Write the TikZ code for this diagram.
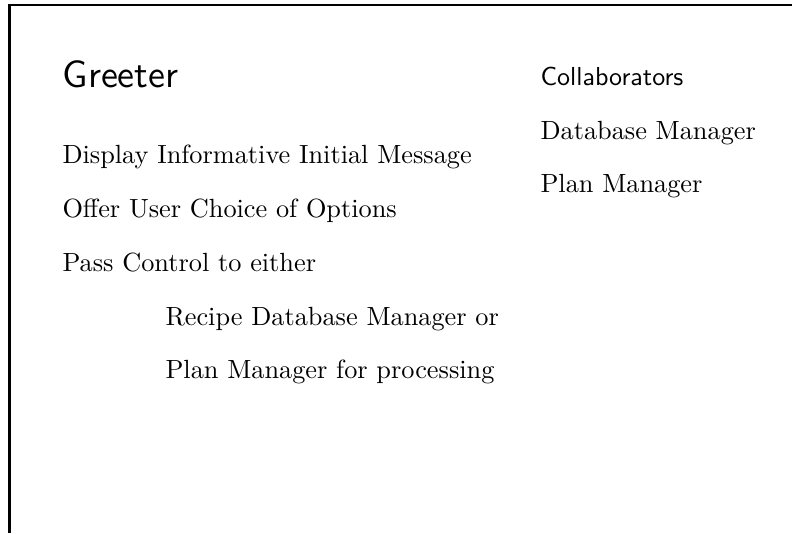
\documentclass[tikz,border=0pt]{standalone}
\usepackage{tikz}
\usetikzlibrary{positioning}

\begin{document}
\begin{tikzpicture}[x=1pt,y=-1pt,
  resp/.style={anchor=base west,inner sep=0pt,scale=2.63,transform shape,font=\fontsize{10}{12}\selectfont},
  collab/.style={anchor=base west,inner sep=0pt,scale=2.6,transform shape,font=\fontsize{10}{12}\sffamily},
  cardname/.style={anchor=base west,inner sep=0pt,scale=3.8,transform shape,font=\fontsize{10}{12}\sffamily}]
\useasboundingbox (0,0) rectangle (792,533);
% card edges
\draw[line width=2.5pt] (792,5) -- (9.5,5) -- (9.5,533);
% class name and responsibilities
\node[cardname] (greeter) at (62,87) {Greeter};
\node[resp] (display) at (62,163) {Display Informative Initial Message};
\node[resp] (offer) at (62,217) {Offer User Choice of Options};
\node[resp] (pass) at (62,271) {Pass Control to either};
\node[resp] (recipe) at (165,325) {Recipe Database Manager or};
\node[resp] (plan) at (165,378) {Plan Manager for processing};
% collaborators
\node[collab] (collab) at (540,85) {Collaborators};
\node[resp] (dbman) at (540,139) {Database Manager};
\node[resp] (planman) at (540,192) {Plan Manager};
\end{tikzpicture}
\end{document}
